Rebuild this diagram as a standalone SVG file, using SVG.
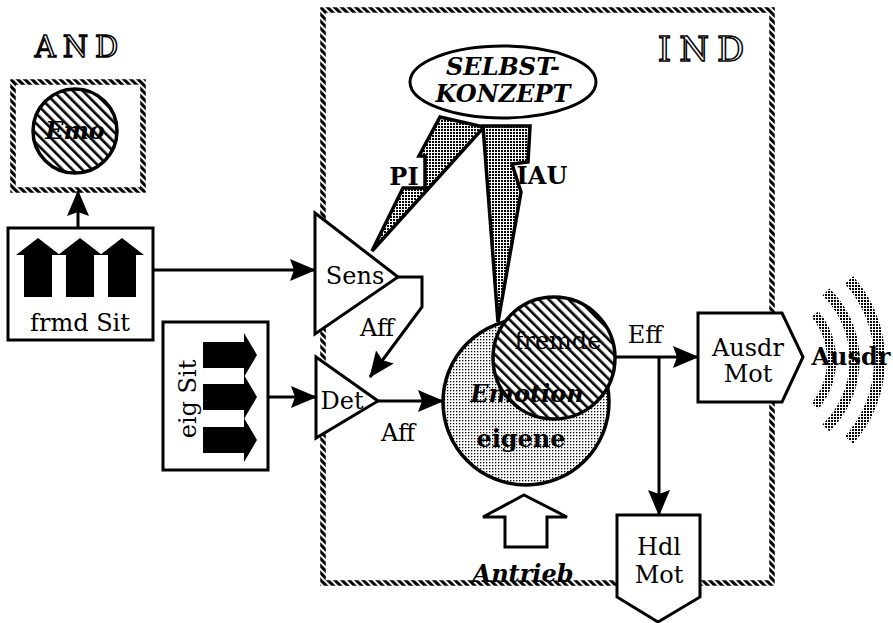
<svg xmlns="http://www.w3.org/2000/svg" width="893" height="623" viewBox="0 0 893 623">
  <defs>
    <!-- twisted rope border -->
    <pattern id="rope" patternUnits="userSpaceOnUse" width="5" height="5" patternTransform="rotate(-45)">
      <rect width="3.1" height="5" fill="#000"/>
    </pattern>
    <!-- diagonal hatching -->
    <pattern id="hatch" patternUnits="userSpaceOnUse" width="7" height="7" patternTransform="rotate(-45)">
      <rect width="7" height="7" fill="#fff"/>
      <rect width="2.6" height="7" fill="#000"/>
    </pattern>
    <!-- screen tones -->
    <pattern id="dotsLight" patternUnits="userSpaceOnUse" width="3" height="3">
      <rect width="3" height="3" fill="#fff"/>
      <rect width="1.3" height="1.3" fill="#000"/>
    </pattern>
    <pattern id="dotsDark" patternUnits="userSpaceOnUse" width="3" height="3">
      <rect width="3" height="3" fill="#fff"/>
      <rect width="2" height="2" fill="#000"/>
    </pattern>
    <marker id="arr" markerUnits="userSpaceOnUse" viewBox="0 0 26 22" refX="25" refY="11" markerWidth="26" markerHeight="22" orient="auto">
      <path d="M0,0 L26,11 L0,22 L4,11 z" fill="#000"/>
    </marker>
    <style>
      .box { fill: #fff; stroke: #000; stroke-width: 3; stroke-linejoin: miter; }
      .rope { fill: none; stroke: url(#rope); stroke-width: 5.5; }
      .line { fill: none; stroke: #000; stroke-width: 3; }
      .t { font-family: "DejaVu Serif", "Liberation Serif", serif; font-size: 24px; fill: #000; text-anchor: middle; }
      .b { font-weight: bold; }
      .bi { font-weight: bold; font-style: italic; }
      .outline { font-family: "DejaVu Serif", "Liberation Serif", serif; fill: #fff; stroke: #000; stroke-width: 1.5; text-anchor: middle; }
      .bolt { fill: url(#dotsDark); stroke: #000; stroke-width: 3.5; stroke-linejoin: miter; }
      .wave { fill: none; stroke: url(#dotsDark); }
    </style>
  </defs>

  <rect width="893" height="623" fill="#fff"/>

  <!-- individual frame -->
  <g id="ind-frame">
    <rect class="rope" x="323" y="10" width="449" height="573"/>
    <text class="outline" x="705" y="61" font-size="34" letter-spacing="8">IND</text>
  </g>

  <!-- other person frame -->
  <g id="and-frame">
    <text class="outline" x="80" y="57" font-size="29" letter-spacing="7">AND</text>
    <rect class="rope" x="13" y="82" width="130" height="108"/>
  </g>
  <g id="emo">
    <circle cx="75" cy="131" r="42" fill="url(#hatch)" stroke="#000" stroke-width="3.5"/>
    <text class="t bi" x="75" y="139" font-size="24">Emo</text>
  </g>

  <!-- connectors -->
  <g id="connectors">
    <line class="line" x1="78" y1="228" x2="78" y2="191" marker-end="url(#arr)"/>
    <line class="line" x1="153" y1="270" x2="315" y2="270" marker-end="url(#arr)"/>
    <line class="line" x1="268" y1="397" x2="316" y2="397" marker-end="url(#arr)"/>
    <polyline class="line" points="398,277 422,277 422,307 370,377" marker-end="url(#arr)"/>
    <line class="line" x1="378" y1="401" x2="443" y2="401" marker-end="url(#arr)"/>
    <line class="line" x1="612" y1="357" x2="698" y2="357" marker-end="url(#arr)"/>
    <line class="line" x1="659" y1="357" x2="659" y2="515" marker-end="url(#arr)"/>
  </g>

  <!-- foreign situation -->
  <g id="frmd-sit">
    <rect class="box" x="8" y="228" width="145" height="112"/>
    <path d="M16,255 L38,238 L60,255 L52,255 L52,297 L24,297 L24,255 z" fill="#000"/>
    <path d="M58,255 L80,238 L102,255 L94,255 L94,297 L66,297 L66,255 z" fill="#000"/>
    <path d="M100,255 L122,238 L144,255 L136,255 L136,297 L108,297 L108,255 z" fill="#000"/>
    <text class="t" x="80" y="331">frmd Sit</text>
  </g>

  <!-- own situation -->
  <g id="eig-sit">
    <rect class="box" x="163" y="322" width="105" height="148"/>
    <path d="M203,342 L244,342 L244,333 L257,355 L244,377 L244,368 L203,368 z" fill="#000"/>
    <path d="M203,384 L244,384 L244,375 L257,397 L244,419 L244,410 L203,410 z" fill="#000"/>
    <path d="M203,427 L244,427 L244,418 L257,440 L244,462 L244,453 L203,453 z" fill="#000"/>
    <text class="t" transform="translate(196,399) rotate(-90)">eig Sit</text>
  </g>

  <!-- sensitivity -->
  <g id="sens">
    <polygon class="box" points="315,213 398,277 315,334"/>
    <text class="t" x="355" y="284">Sens</text>
  </g>
  <text class="t" x="377" y="336">Aff</text>

  <!-- detection -->
  <g id="det">
    <polygon class="box" points="316,357 378,401 316,438"/>
    <text class="t" x="342" y="409">Det</text>
  </g>
  <text class="t" x="398" y="441">Aff</text>

  <!-- self concept with its two influence bolts -->
  <g id="selbstkonzept">
    <polygon class="bolt" points="440,117 484,127 372,251 403,188 425,188 425,156 419,156"/>
    <polygon class="bolt" points="483,126 530,126 528,162 512,164 521,192 498,322"/>
    <ellipse cx="503" cy="82" rx="93" ry="36" fill="#fff" stroke="#000" stroke-width="3"/>
    <text class="t bi" x="503" y="75">SELBST-</text>
    <text class="t bi" x="503" y="102">KONZEPT</text>
  </g>
  <text class="t b" x="404" y="185">PI</text>
  <text class="t b" x="542" y="184">IAU</text>

  <!-- emotion -->
  <g id="emotion">
    <circle cx="526" cy="402" r="83" fill="url(#dotsLight)" stroke="#000" stroke-width="3.5"/>
    <circle cx="554" cy="358" r="61" fill="url(#hatch)" stroke="#000" stroke-width="3.5"/>
    <text class="t" x="558" y="349" font-size="22">fremde</text>
    <text class="t bi" x="527" y="402" font-size="23">Emotion</text>
    <text class="t b" x="521" y="447" font-size="22">eigene</text>
  </g>
  <text class="t" x="645" y="343">Eff</text>

  <!-- drive -->
  <g id="antrieb">
    <polygon class="box" points="524,495 567,517 547,517 547,547 505,547 505,517 483,517"/>
    <text class="t bi" x="523" y="582">Antrieb</text>
  </g>

  <!-- expression motor -->
  <g id="ausdr-mot">
    <polygon class="box" points="698,313 782,313 803,357 782,402 698,402"/>
    <text class="t" x="748" y="356">Ausdr</text>
    <text class="t" x="748" y="382">Mot</text>
  </g>

  <!-- expression output -->
  <g id="ausdr">
    <path class="wave" stroke-width="9" d="M815,314 A72,72 0 0 1 815,406"/>
    <path class="wave" stroke-width="10" d="M826,292 A95,95 0 0 1 826,428"/>
    <path class="wave" stroke-width="11" d="M849,280 A120,120 0 0 1 849,440"/>
    <text class="t b" x="851" y="365">Ausdr</text>
  </g>

  <!-- action motor -->
  <g id="hdl-mot">
    <polygon class="box" points="617,515 700,515 700,597 658,622 617,597"/>
    <text class="t" x="659" y="555" font-size="23">Hdl</text>
    <text class="t" x="659" y="583" font-size="23">Mot</text>
  </g>
</svg>
